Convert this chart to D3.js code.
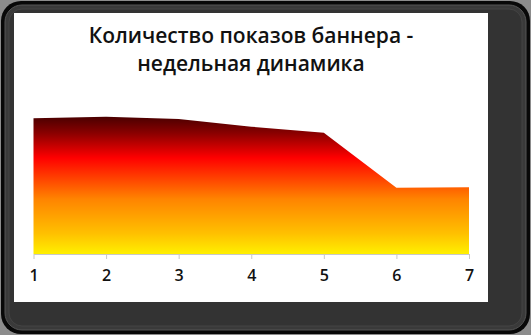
<!DOCTYPE html>
<html>
<head>
<meta charset="utf-8">
<script src="https://cdn.jsdelivr.net/npm/d3@7"></script>
<style>
  html, body { margin: 0; padding: 0; background: #8c8c8c; }
  svg { display: block; }
</style>
</head>
<body>
<div id="chart"></div>
<script>
// weekly banner impressions
const weeks = [1, 2, 3, 4, 5, 6, 7];
const impressions = [1000, 1012, 995, 938, 894, 489, 492];
const titleLines = ["Количество показов баннера -", "недельная динамика"];

const W = 531, H = 335;
const svg = d3.select('#chart').append('svg').attr('width', W).attr('height', H);

// dark frame
svg.append('rect').attr('x', 1).attr('y', 1).attr('width', W - 2).attr('height', H - 2)
  .attr('rx', 20).attr('fill', '#080808');
svg.append('rect').attr('x', 5).attr('y', 5).attr('width', W - 10).attr('height', H - 10)
  .attr('rx', 17).attr('fill', '#3a3a3a').attr('stroke', '#555').attr('stroke-width', 1);
svg.append('rect').attr('x', 9).attr('y', 9).attr('width', W - 18).attr('height', H - 18)
  .attr('rx', 13).attr('fill', '#333').attr('stroke', '#444').attr('stroke-width', 1);

// white card
svg.append('rect').attr('x', 14).attr('y', 13).attr('width', 474).attr('height', 289)
  .attr('fill', '#fff');

const x = d3.scaleLinear().domain([1, 7]).range([33.5, 469]);
const y = d3.scaleLinear().domain([0, 1000]).range([254, 118.3]);

const defs = svg.append('defs');
const grad = defs.append('linearGradient').attr('id', 'fillGrad')
  .attr('gradientUnits', 'userSpaceOnUse')
  .attr('x1', 0).attr('x2', 0).attr('y1', y(d3.max(impressions))).attr('y2', y(0));
grad.selectAll('stop').data([
  [0, '#4a0000'], [0.12, '#8a0000'], [0.3, '#ff0000'], [0.6, '#ff8400'], [0.85, '#ffc000'], [1, '#fff000']
]).join('stop').attr('offset', d => d[0]).attr('stop-color', d => d[1]);

const data = weeks.map((w, i) => ({ w, v: impressions[i] }));
const area = d3.area().x(d => x(d.w)).y0(y(0)).y1(d => y(d.v));
svg.append('path').datum(data).attr('d', area).attr('fill', 'url(#fillGrad)');

// x axis
const ax = svg.append('g').attr('transform', `translate(0,${y(0)})`)
  .call(d3.axisBottom(x).tickValues(weeks).tickFormat(d3.format('d'))
    .tickSize(5).tickSizeOuter(0).tickPadding(11));
ax.select('.domain').attr('stroke', '#c8c8c8');
ax.selectAll('.tick line').attr('stroke', '#c8c8c8');
ax.selectAll('.tick text').attr('fill', '#111')
  .style('font-family', '"Open Sans", sans-serif').style('font-size', '16px').style('font-weight', 600);

// title
svg.append('text').attr('x', 251).attr('text-anchor', 'middle')
  .style('font-family', '"Open Sans", sans-serif').style('font-size', '21px').style('font-weight', 600)
  .attr('fill', '#111')
  .selectAll('tspan').data(titleLines).join('tspan')
  .attr('x', 251).attr('y', (d, i) => 43 + i * 28).text(d => d);
</script>
</body>
</html>
